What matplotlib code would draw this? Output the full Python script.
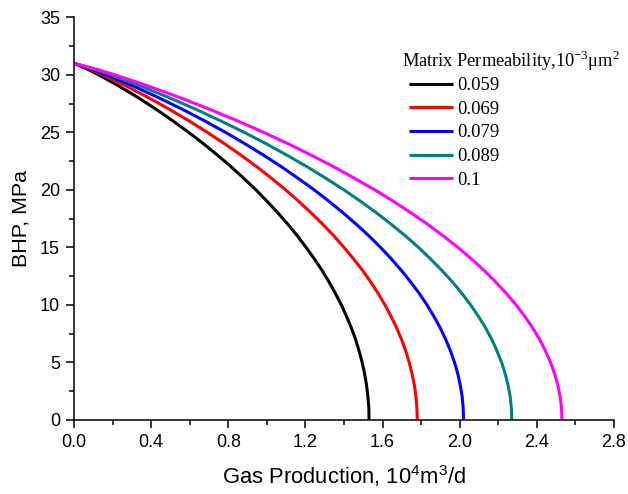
import matplotlib
matplotlib.use("Agg")
import matplotlib.pyplot as plt
from matplotlib.ticker import MultipleLocator, FormatStrFormatter

# BHP values (MPa) at which the curves were read
bhp = [31, 30.5, 30, 29, 28, 27, 26, 25, 24, 23, 22, 21, 20, 19, 18, 17, 16, 15, 14, 13,
       12, 11, 10, 9, 8, 7, 6, 5, 4, 3, 2, 1, 0]

# Gas production (10^4 m^3/d) read for each matrix permeability
q_0059 = [0.000, 0.069, 0.128, 0.235, 0.334, 0.426, 0.512, 0.594, 0.672, 0.745, 0.815, 0.880,
          0.943, 1.001, 1.057, 1.109, 1.158, 1.203, 1.246, 1.286, 1.322, 1.355, 1.386, 1.413,
          1.438, 1.460, 1.478, 1.494, 1.507, 1.517, 1.524, 1.529, 1.530]
q_0069 = [0.000, 0.080, 0.149, 0.274, 0.388, 0.495, 0.596, 0.691, 0.781, 0.867, 0.948, 1.024,
          1.097, 1.165, 1.229, 1.290, 1.347, 1.400, 1.449, 1.496, 1.538, 1.577, 1.612, 1.644,
          1.673, 1.698, 1.720, 1.738, 1.753, 1.765, 1.773, 1.778, 1.780]
q_0079 = [0.000, 0.091, 0.169, 0.311, 0.440, 0.562, 0.677, 0.785, 0.887, 0.984, 1.076, 1.162,
          1.245, 1.322, 1.395, 1.464, 1.529, 1.589, 1.645, 1.697, 1.745, 1.790, 1.830, 1.866,
          1.899, 1.927, 1.952, 1.973, 1.990, 2.003, 2.013, 2.018, 2.020]
q_0089 = [0.000, 0.102, 0.190, 0.349, 0.495, 0.632, 0.760, 0.882, 0.997, 1.105, 1.209, 1.306,
          1.399, 1.486, 1.568, 1.645, 1.718, 1.786, 1.848, 1.907, 1.962, 2.011, 2.056, 2.097,
          2.134, 2.166, 2.193, 2.217, 2.236, 2.251, 2.262, 2.268, 2.270]
q_0100 = [0.000, 0.114, 0.212, 0.389, 0.552, 0.704, 0.847, 0.983, 1.111, 1.232, 1.347, 1.455,
          1.559, 1.656, 1.747, 1.834, 1.914, 1.990, 2.060, 2.126, 2.186, 2.241, 2.292, 2.337,
          2.378, 2.414, 2.444, 2.471, 2.492, 2.509, 2.521, 2.528, 2.530]

labels = ["0.059", "0.069", "0.079", "0.089", "0.1"]
series = [q_0059, q_0069, q_0079, q_0089, q_0100]
colors = ["#000000", "#ff0000", "#0000ff", "#008080", "#ff00ff"]

plt.rcParams['font.family'] = ['Liberation Sans', 'DejaVu Sans']

fig = plt.figure(figsize=(6.28, 4.94), dpi=100)
ax = fig.add_axes([0.1178, 0.1502, 0.8599, 0.8148])

for q, lab, c in zip(series, labels, colors):
    ax.plot(q, bhp, color=c, lw=2.2, label=lab, solid_capstyle='butt', solid_joinstyle='round')

ax.set_xlim(0, 2.8)
ax.set_ylim(0, 35)
ax.xaxis.set_major_locator(MultipleLocator(0.4))
ax.xaxis.set_minor_locator(MultipleLocator(0.2))
ax.yaxis.set_major_locator(MultipleLocator(5))
ax.yaxis.set_minor_locator(MultipleLocator(2.5))
ax.xaxis.set_major_formatter(FormatStrFormatter('%.1f'))

for s in ['top', 'right']:
    ax.spines[s].set_visible(False)
for s in ['left', 'bottom']:
    ax.spines[s].set_linewidth(1.1)

ax.tick_params(which='major', direction='out', length=6, width=1.1, labelsize=13, pad=4)
ax.tick_params(which='minor', direction='out', length=3.5, width=1.1)

ax.set_xlabel("Gas Production, 10$^{\\mathregular{4}}$m$^{\\mathregular{3}}$/d", fontsize=15.8, labelpad=9)
ax.set_ylabel("BHP, MPa", fontsize=15.4, labelpad=7)

leg = ax.legend(loc='upper left', bbox_to_anchor=(0.6074, 0.922), frameon=False,
                title="Matrix Permeability,10$^{\\mathregular{-3}}$μm$^{\\mathregular{2}}$",
                prop={'family': 'Liberation Serif', 'size': 13.5},
                title_fontproperties={'family': 'Liberation Serif', 'size': 13.2},
                alignment='left', handlelength=2.35, handletextpad=0.22,
                labelspacing=0.35, borderpad=0, borderaxespad=0)
leg._legend_box.sep = -2
leg._legend_handle_box.pad = 5
for h in leg.get_lines():
    h.set_linewidth(2.2)

fig.savefig("out.png", dpi=100)
